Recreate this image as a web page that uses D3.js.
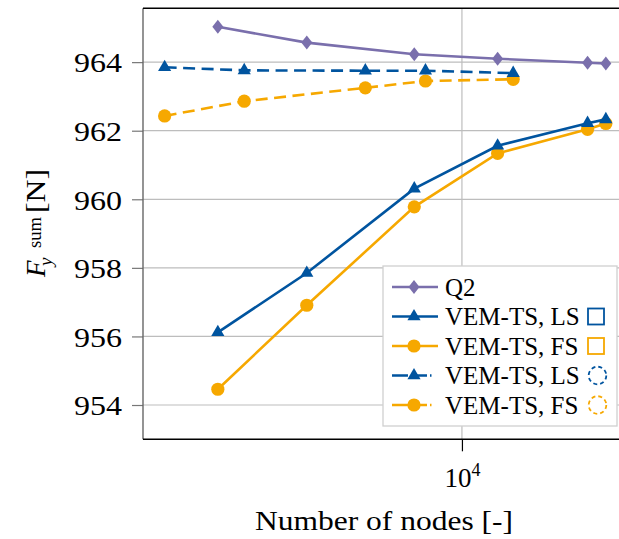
<!DOCTYPE html>
<html>
<head>
<meta charset="utf-8">
<script src="https://cdn.jsdelivr.net/npm/d3@7"></script>
<style>
  html, body { margin: 0; padding: 0; background: #fff; }
  svg { display: block; }
  svg text { font-family: "Liberation Serif", "DejaVu Serif", "Noto Serif", "Times New Roman", serif; fill: #000; }
</style>
</head>
<body>
<svg id="chart" width="619" height="539"></svg>
<script>
// Sum of vertical force versus mesh size (number of nodes)
const nodesFine   = [3247, 4892, 8028, 11787, 17842, 19409];
const nodesCoarse = [2541, 3667, 6407, 8453, 12664];

const q2        = [965.03, 964.57, 964.23, 964.10, 963.98, 963.96];
const lsSquare  = [956.12, 957.85, 960.31, 961.56, 962.22, 962.33];
const fsSquare  = [954.46, 956.91, 959.78, 961.34, 962.04, 962.21];
const lsCircle  = [963.85, 963.76, 963.75, 963.75, 963.68];
const fsCircle  = [962.43, 962.86, 963.25, 963.45, 963.50];

const yTicks = [954, 956, 958, 960, 962, 964];
const xTicks = [10000];
const xDomain = [2300, 21200];
const yDomain = [953.0, 965.57];

const seriesNames = ["Q2", "VEM-TS, LS", "VEM-TS, FS", "VEM-TS, LS", "VEM-TS, FS"];

const C_PURPLE = "#7a6fac";
const C_BLUE = "#00549f";
const C_ORANGE = "#f6a800";
const SERIF = "Liberation Serif";

const svg = d3.select("#chart");
const pLeft = 143, pRight = 625, pTop = 8.3, pBottom = 439.3;

const x = d3.scaleLog().domain(xDomain).range([pLeft, pRight]);
const y = d3.scaleLinear().domain(yDomain).range([pBottom, pTop]);

// grid
const grid = svg.append("g");
grid.selectAll("line.h").data(yTicks).join("line")
  .attr("x1", pLeft).attr("x2", pRight)
  .attr("y1", d => y(d)).attr("y2", d => y(d))
  .attr("stroke", "#bdbdbd").attr("stroke-width", 1.2);
grid.selectAll("line.v").data(xTicks).join("line")
  .attr("x1", d => x(d)).attr("x2", d => x(d))
  .attr("y1", pTop).attr("y2", pBottom)
  .attr("stroke", "#bdbdbd").attr("stroke-width", 1.2);

// axes
const yAxis = d3.axisLeft(y).tickValues(yTicks).tickSize(11).tickPadding(10).tickFormat(d3.format("d"));
const gy = svg.append("g").attr("transform", `translate(${pLeft},0)`).call(yAxis)
  .attr("font-family", SERIF);
gy.select(".domain").remove();
gy.selectAll(".tick line").attr("stroke", "#777").attr("stroke-width", 1.2);
gy.selectAll(".tick text")
  .attr("font-size", 27)
  .attr("dy", "0.36em")
  .attr("textLength", 48).attr("lengthAdjust", "spacingAndGlyphs");

const xAxis = d3.axisBottom(x).tickValues(xTicks).tickSize(12).tickFormat(() => "");
const gx = svg.append("g").attr("transform", `translate(0,${pBottom})`).call(xAxis)
  .attr("font-family", SERIF);
gx.select(".domain").remove();
gx.selectAll(".tick line").attr("stroke", "#000").attr("stroke-width", 1.2);
gx.selectAll(".tick").each(function () {
  const t = d3.select(this).append("text").attr("y", 48).attr("text-anchor", "middle")
    .attr("font-size", 27);
  t.append("tspan").text("10");
  t.append("tspan").attr("dy", -11).attr("font-size", 18).text("4");
});

// frame
svg.append("line").attr("x1", pLeft).attr("x2", pLeft).attr("y1", pTop).attr("y2", pBottom)
  .attr("stroke", "#666").attr("stroke-width", 1.4);
svg.append("line").attr("x1", pLeft).attr("x2", pRight).attr("y1", pTop).attr("y2", pTop)
  .attr("stroke", "#000").attr("stroke-width", 1.4);
svg.append("line").attr("x1", pLeft).attr("x2", pRight).attr("y1", pBottom).attr("y2", pBottom)
  .attr("stroke", "#000").attr("stroke-width", 1.4);

// markers
const triPath = d3.symbol().type(d3.symbolTriangle).size(75)();
const diamondPath = "M0,-7L5.5,0L0,7L-5.5,0Z";
function drawMarker(g, kind, color, cx, cy) {
  if (kind === "circle") {
    g.append("circle").attr("cx", cx).attr("cy", cy).attr("r", 6.6).attr("fill", color);
  } else if (kind === "triangle") {
    g.append("path").attr("d", triPath).attr("transform", `translate(${cx},${cy})`).attr("fill", color);
  } else {
    g.append("path").attr("d", diamondPath).attr("transform", `translate(${cx},${cy})`).attr("fill", color);
  }
}

const series = [
  { xs: nodesCoarse, ys: fsCircle, color: C_ORANGE, marker: "circle", dash: "12,6.5" },
  { xs: nodesCoarse, ys: lsCircle, color: C_BLUE, marker: "triangle", dash: "12,6.5" },
  { xs: nodesFine, ys: q2, color: C_PURPLE, marker: "diamond", dash: null },
  { xs: nodesFine, ys: fsSquare, color: C_ORANGE, marker: "circle", dash: null },
  { xs: nodesFine, ys: lsSquare, color: C_BLUE, marker: "triangle", dash: null },
];

const line = d3.line().x(d => x(d[0])).y(d => y(d[1]));
const plot = svg.append("g");
series.forEach(s => {
  const pts = s.xs.map((v, i) => [v, s.ys[i]]);
  plot.append("path").datum(pts).attr("d", line)
    .attr("fill", "none").attr("stroke", s.color).attr("stroke-width", 2.6)
    .attr("stroke-dasharray", s.dash);
  pts.forEach(p => drawMarker(plot, s.marker, s.color, x(p[0]), y(p[1])));
});

// legend
const lg = svg.append("g").attr("font-family", SERIF);
lg.append("rect").attr("x", 383).attr("y", 266).attr("width", 234).attr("height", 160)
  .attr("fill", "#fff").attr("stroke", "#d0d0d0").attr("stroke-width", 1.3);
const legendItems = [
  { name: seriesNames[0], color: C_PURPLE, marker: "diamond", dash: null, icon: null },
  { name: seriesNames[1], color: C_BLUE, marker: "triangle", dash: null, icon: "square" },
  { name: seriesNames[2], color: C_ORANGE, marker: "circle", dash: null, icon: "square" },
  { name: seriesNames[3], color: C_BLUE, marker: "triangle", dash: "16,6", icon: "circle" },
  { name: seriesNames[4], color: C_ORANGE, marker: "circle", dash: "16,6", icon: "circle" },
];
legendItems.forEach((it, i) => {
  const cy = 287 + i * 29.5;
  lg.append("line").attr("x1", 392).attr("x2", 438).attr("y1", cy).attr("y2", cy)
    .attr("stroke", it.color).attr("stroke-width", 2.6)
    .attr("stroke-dasharray", it.dash ? "16,6,13,3,1.5,100" : null);
  drawMarker(lg, it.marker, it.color, 414, cy);
  lg.append("text").attr("x", 445).attr("y", cy + 8.5).attr("font-size", 25).text(it.name);
  if (it.icon === "square") {
    lg.append("rect").attr("x", 588).attr("y", cy - 8).attr("width", 16).attr("height", 16)
      .attr("fill", "none").attr("stroke", it.color).attr("stroke-width", 1.8);
  } else if (it.icon === "circle") {
    lg.append("circle").attr("cx", 597.5).attr("cy", cy).attr("r", 8.8)
      .attr("fill", "none").attr("stroke", it.color).attr("stroke-width", 1.8)
      .attr("stroke-dasharray", "4,3");
  }
});

// axis titles
svg.append("text").attr("x", 384).attr("y", 530).attr("text-anchor", "middle")
  .attr("font-family", SERIF)
  .attr("font-size", 28).attr("textLength", 258).attr("lengthAdjust", "spacingAndGlyphs")
  .text("Number of nodes [-]");

const yl = svg.append("g").attr("transform", "translate(45,277) rotate(-90)").attr("font-family", SERIF);
yl.append("text").attr("x", 0).attr("y", 0).attr("font-size", 27).attr("font-style", "italic").text("F");
yl.append("text").attr("x", 11).attr("y", 7).attr("font-size", 19).attr("font-style", "italic").text("y");
yl.append("text").attr("x", 29).attr("y", -4).attr("font-size", 19)
  .attr("textLength", 31).attr("lengthAdjust", "spacingAndGlyphs").text("sum");
yl.append("text").attr("x", 64).attr("y", 0).attr("font-size", 28)
  .attr("textLength", 44).attr("lengthAdjust", "spacingAndGlyphs").text("[N]");
</script>
</body>
</html>
